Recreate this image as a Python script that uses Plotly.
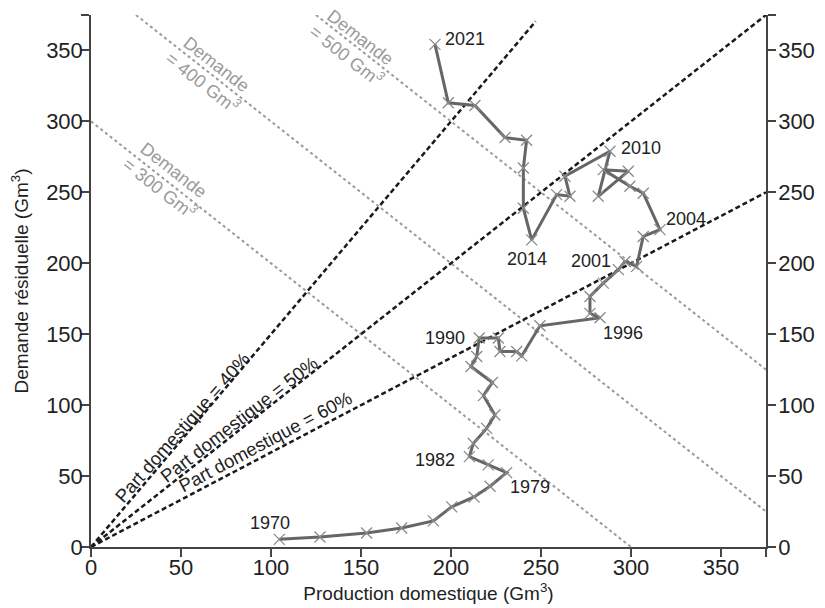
import plotly.graph_objects as go

# ---- data ----
production = [104.6, 127.2, 153.1, 172.6, 190.2, 200.4, 212.8, 221.7, 230.9, 220.7, 210.2,
              212.4, 219.8, 224.4, 218.0, 223.0, 211.1, 214.3, 215.7,
              226.3, 227.2, 236.5, 239.3, 249.4, 282.8,
              277.2, 277.2, 284.6, 293.0, 296.7,
              303.1, 306.8, 316.1,
              306.8, 299.4, 284.6, 298.5, 281.8, 288.3,
              263.3, 266.1, 258.7, 244.8,
              240.2, 240.2, 242.0, 230.0, 213.3, 198.5, 191.1]
residual = [5.4, 7.1, 9.9, 13.4, 18.4, 28.3, 35.3, 42.8, 52.4, 57.9, 63.7,
            73.0, 83.6, 93.0, 106.7, 116.0, 127.2, 134.3, 147.3,
            147.3, 137.8, 137.8, 134.7, 155.9, 161.6,
            164.7, 176.6, 186.0, 195.5, 201.3,
            197.8, 218.9, 223.7,
            249.4, 254.3, 266.0, 264.9, 247.2, 279.0,
            261.3, 247.2, 248.4, 216.5,
            238.8, 267.1, 286.7, 288.6, 311.2, 313.1, 354.3]
label_years = ["1970", "1979", "1982", "1990", "1996", "2001", "2004", "2010", "2014", "2021"]
label_index = [0, 8, 10, 18, 24, 29, 32, 38, 42, 49]

shares = [0.4, 0.5, 0.6]
share_labels = ["Part domestique = 40%", "Part domestique = 50%", "Part domestique = 60%"]
share_x_end = [247, 375, 375]

demands = [300, 400, 500]
demand_labels = ["Demande<br>= 300 Gm<sup><i>3</i></sup>",
                 "Demande<br>= 400 Gm<sup><i>3</i></sup>",
                 "Demande<br>= 500 Gm<sup><i>3</i></sup>"]

tick_vals = [0, 50, 100, 150, 200, 250, 300, 350, 375]
tick_text = ["0", "50", "100", "150", "200", "250", "300", "350", " "]
AX_MAX = 375

# ---- styles / positions ----
FONT = "Liberation Sans, Arial, sans-serif"
# label offsets (xanchor, xshift, yshift) for year labels
year_style = [("center", -9, 16), ("left", 1, -14), ("right", -12, -3), ("right", -12, 0),
              ("left", 1, -15), ("right", -12, 0), ("left", 4, 11), ("left", 9, 3),
              ("center", -5, -19), ("left", 8, 5)]
share_label_pos = [(50.8, 84.3, -48.5), (82.3, 89.6, -37.7), (97.1, 74.3, -28.0)]
demand_label_pos = [(42.0, 259.0), (65.7, 333.8), (145.6, 352.9)]

fig = go.Figure()

# demand iso-lines
for d in demands:
    x0 = max(0, d - AX_MAX)
    x1 = min(AX_MAX, d)
    fig.add_trace(go.Scatter(x=[x0, x1], y=[d - x0, d - x1], mode="lines",
                             line=dict(color="#9a9a9a", width=2, dash="dot"),
                             hoverinfo="skip", showlegend=False))

# share lines
for s, xe in zip(shares, share_x_end):
    k = (1 - s) / s
    fig.add_trace(go.Scatter(x=[0, xe], y=[0, xe * k], mode="lines",
                             line=dict(color="#1a1a1a", width=2.5, dash="5px,3px"),
                             hoverinfo="skip", showlegend=False))

# trajectory
fig.add_trace(go.Scatter(x=production, y=residual, mode="lines+markers",
                         line=dict(color="#666666", width=3),
                         marker=dict(symbol="x-thin", size=11,
                                     line=dict(color="#8a8a8a", width=1.3)),
                         showlegend=False))

# invisible trace for right axis
fig.add_trace(go.Scatter(x=[0], y=[0], yaxis="y2", mode="markers",
                         marker=dict(opacity=0), hoverinfo="skip", showlegend=False))

annotations = []
for yr, idx, (xa, xs, ys) in zip(label_years, label_index, year_style):
    annotations.append(dict(x=production[idx], y=residual[idx], text=yr, showarrow=False,
                            xanchor=xa, yanchor="middle", xshift=xs, yshift=ys,
                            font=dict(family=FONT, size=18, color="#222222")))
for txt, (lx, ly, ang) in zip(share_labels, share_label_pos):
    annotations.append(dict(x=lx, y=ly, text=txt, showarrow=False, textangle=ang,
                            xanchor="center", yanchor="middle",
                            font=dict(family=FONT, size=18.5, color="#222222")))
for txt, (lx, ly) in zip(demand_labels, demand_label_pos):
    annotations.append(dict(x=lx, y=ly, text=txt, showarrow=False, textangle=38,
                            xanchor="center", yanchor="middle",
                            font=dict(family=FONT, size=18, color="#9a9a9a")))

axis_common = dict(range=[0, AX_MAX], tickvals=tick_vals, ticktext=tick_text,
                   showline=True, linecolor="#444444", linewidth=1.5,
                   ticks="outside", ticklen=8, tickwidth=1.5, tickcolor="#444444",
                   showgrid=False, zeroline=False, automargin=False,
                   tickfont=dict(family=FONT, size=22, color="#222222"))

# page body has an 8px default margin, so the figure is drawn shifted by 8px
fig.update_layout(
    width=817, height=600,
    margin=dict(l=83, r=59, t=7, b=61),
    paper_bgcolor="white", plot_bgcolor="white",
    font=dict(family=FONT, color="#222222"),
    xaxis=dict(**axis_common, ticklabelstandoff=-8,
               title=dict(text="Production domestique (Gm<sup>3</sup>)", standoff=4,
                          font=dict(family=FONT, size=19, color="#222222"))),
    yaxis=dict(**axis_common, ticklabelstandoff=-6,
               title=dict(text="Demande résiduelle (Gm<sup>3</sup>)", standoff=15,
                          font=dict(family=FONT, size=19, color="#222222"))),
    yaxis2=dict(**axis_common, ticklabelstandoff=-2, overlaying="y", side="right"),
    annotations=annotations,
    showlegend=False,
)

fig.write_html("out.html")
